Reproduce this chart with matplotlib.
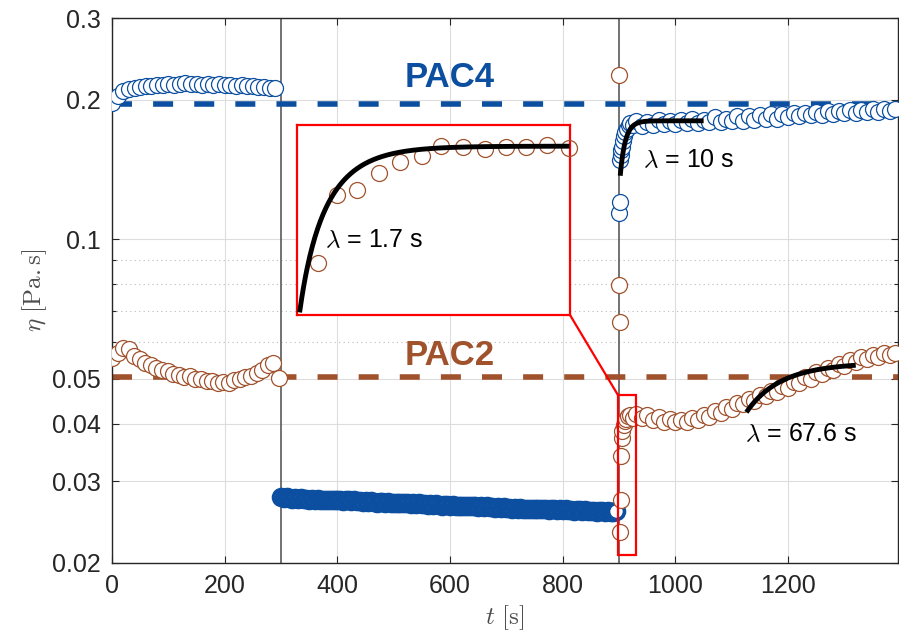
import numpy as np
import matplotlib.pyplot as plt
from matplotlib.patches import Rectangle, ConnectionPatch

plt.rcParams['font.family'] = ['Liberation Sans', 'DejaVu Sans']
plt.rcParams['mathtext.fontset'] = 'cm'

blue = '#0C4FA0'
brown = '#A0522D'
grey_txt = '#262626'

# PAC4 viscosity, first shear step (t = 0..290 s)
pac4_t1 = np.arange(0, 300, 10)
pac4_eta1 = [0.197, 0.204, 0.209, 0.211, 0.212, 0.213, 0.214, 0.214, 0.215, 0.215,
             0.216, 0.215, 0.216, 0.217, 0.216, 0.216, 0.215, 0.216, 0.215, 0.216,
             0.215, 0.215, 0.214, 0.215, 0.214, 0.214, 0.213, 0.213, 0.212, 0.212]

# PAC4, second step (t = 300..895 s)
pac4_t2 = np.arange(300, 900, 5)
pac4_eta2 = [0.0277, 0.0276, 0.0277, 0.0276, 0.0275, 0.0276, 0.0275, 0.0276, 0.0275, 0.0275,
             0.0274, 0.0275, 0.0274, 0.0275, 0.0274, 0.0273, 0.0274, 0.0274, 0.0273, 0.0274,
             0.0273, 0.0273, 0.0272, 0.0273, 0.0273, 0.0272, 0.0273, 0.0272, 0.0272, 0.0271,
             0.0272, 0.0271, 0.0272, 0.0271, 0.0270, 0.0271, 0.0271, 0.0270, 0.0271, 0.0270,
             0.0270, 0.0269, 0.0270, 0.0269, 0.0270, 0.0269, 0.0268, 0.0269, 0.0268, 0.0269,
             0.0268, 0.0268, 0.0267, 0.0268, 0.0267, 0.0268, 0.0267, 0.0266, 0.0267, 0.0267,
             0.0266, 0.0267, 0.0266, 0.0265, 0.0266, 0.0266, 0.0265, 0.0266, 0.0265, 0.0265,
             0.0264, 0.0265, 0.0264, 0.0265, 0.0264, 0.0264, 0.0263, 0.0264, 0.0263, 0.0264,
             0.0263, 0.0263, 0.0262, 0.0263, 0.0262, 0.0263, 0.0262, 0.0262, 0.0261, 0.0262,
             0.0262, 0.0261, 0.0262, 0.0261, 0.0261, 0.0260, 0.0261, 0.0261, 0.0260, 0.0261,
             0.0260, 0.0261, 0.0260, 0.0260, 0.0259, 0.0260, 0.0260, 0.0259, 0.0260, 0.0259,
             0.0259, 0.0259, 0.0258, 0.0259, 0.0259, 0.0258, 0.0259, 0.0258, 0.0258, 0.0259]

# PAC4, third step (t = 900..1390 s)
pac4_t3 = [900, 901, 902, 903, 904, 905, 907, 909, 911, 914, 917, 920, 925] + list(range(930, 1400, 10))
pac4_eta3 = [0.114, 0.120, 0.148, 0.152, 0.156, 0.158, 0.163, 0.167, 0.170, 0.173, 0.176, 0.178, 0.176,
             0.180, 0.175, 0.179, 0.176, 0.181, 0.177, 0.180, 0.177, 0.181, 0.178,
             0.182, 0.178, 0.181, 0.179, 0.183, 0.179, 0.182, 0.180, 0.184, 0.180,
             0.184, 0.181, 0.185, 0.182, 0.186, 0.182, 0.186, 0.183, 0.187, 0.184,
             0.187, 0.185, 0.188, 0.185, 0.189, 0.186, 0.189, 0.187, 0.190, 0.187,
             0.190, 0.188, 0.191, 0.188, 0.191, 0.189, 0.191]

# PAC2 viscosity, first step
pac2_t1 = np.linspace(0, 296, 31)
pac2_eta1 = [0.0553, 0.0568, 0.0582, 0.0578, 0.0560, 0.0552, 0.0540, 0.0535, 0.0526, 0.0522,
             0.0519, 0.0512, 0.0510, 0.0505, 0.0506, 0.0500, 0.0498, 0.0494, 0.0493, 0.0489,
             0.0491, 0.0490, 0.0496, 0.0498, 0.0504, 0.0507, 0.0515, 0.0522, 0.0534, 0.0540,
             0.0501]

# PAC2, third step (t = 899..1390 s)
pac2_t3 = [899, 900, 901, 902, 903, 904, 905, 906, 908, 910, 913, 916, 920, 925] + list(range(930, 1400, 10))
pac2_eta3 = [0.226, 0.0795, 0.0662, 0.0233, 0.0273, 0.0341, 0.0372, 0.0385, 0.0398, 0.0405, 0.0410,
             0.0415, 0.0418, 0.0412,
             0.0420, 0.0411, 0.0417, 0.0408, 0.0413, 0.0404, 0.0410, 0.0402, 0.0408, 0.0404,
             0.0412, 0.0408, 0.0418, 0.0414, 0.0426, 0.0422, 0.0434, 0.0430, 0.0444, 0.0440,
             0.0452, 0.0448, 0.0461, 0.0458, 0.0470, 0.0467, 0.0481, 0.0477, 0.0492, 0.0488,
             0.0504, 0.0500, 0.0516, 0.0511, 0.0527, 0.0521, 0.0537, 0.0532, 0.0548, 0.0542,
             0.0556, 0.0551, 0.0562, 0.0557, 0.0567, 0.0561, 0.0569]

# zoomed start-up of PAC2 at t = 900 s
zoom_t = [901.1, 902.1, 903.1, 904.2, 905.3, 906.4, 907.4, 908.5, 909.6, 910.7, 911.7, 912.8, 913.9]
zoom_eta = [0.0258, 0.0343, 0.0351, 0.0376, 0.0394, 0.0404, 0.0421, 0.0420, 0.0416, 0.0420,
            0.0420, 0.0423, 0.0418]

# reference levels and exponential fits (t0, t1, eta_start, eta_inf, lambda)
pac4_level = 0.196
pac2_level = 0.0503
fit_pac4 = (902, 1050, 0.137, 0.180, 10)
fit_pac2 = (1126, 1320, 0.0423, 0.0541, 67.6)
fit_zoom = (900.2, 913.8, 0.0212, 0.0421, 1.7)


def fit_curve(t0, t1, eta0, eta_inf, lam):
    t = np.linspace(t0, t1, 300)
    return t, eta_inf - (eta_inf - eta0) * np.exp(-(t - t0) / lam)


fig = plt.figure(figsize=(8.99, 6.44), dpi=100)
ax = fig.add_axes([112 / 899, 1 - 563 / 644, 786 / 899, 545 / 644])
ax.set_yscale('log')
ax.set_xlim(0, 1395)
ax.set_ylim(0.02, 0.3)

ax.set_yticks([0.02, 0.03, 0.04, 0.05, 0.1, 0.2, 0.3])
ax.set_yticklabels(['0.02', '0.03', '0.04', '0.05', '0.1', '0.2', '0.3'])
ax.set_yticks([0.06, 0.07, 0.08, 0.09], minor=True)
ax.set_xticks([0, 200, 400, 600, 800, 1000, 1200])
ax.tick_params(which='both', direction='in', top=True, right=True, labelsize=18,
               colors=grey_txt, pad=8, length=5, width=0.8)
ax.tick_params(which='minor', length=3)
ax.grid(True, which='major', color='#DDDDDD', lw=0.8)
ax.grid(True, which='minor', axis='y', color='#BBBBBB', lw=0.8, ls=(0, (1, 3)))
ax.set_axisbelow(True)
for s in ax.spines.values():
    s.set_color(grey_txt)
    s.set_linewidth(1.0)

ax.set_xlabel(r'$t\ [\mathrm{s}]$', fontsize=18, color='#4D4D4D', labelpad=4)
ax.set_ylabel(r'$\eta\ [\mathrm{Pa{.}s}]$', fontsize=18, color='#4D4D4D', labelpad=2)

# step changes
for ts in (300, 900):
    ax.axvline(ts, color='#5A5A5A', lw=1.2, zorder=1)

ax.axhline(pac4_level, color=blue, lw=4, dashes=(3.6, 3.8), zorder=2)
ax.axhline(pac2_level, color=brown, lw=4, dashes=(3.6, 3.8), zorder=2)

mk = dict(marker='o', ms=11.5, mfc='white', ls='none', zorder=3)
ax.plot(pac4_t1, pac4_eta1, mec=blue, mew=0.9, **mk)
ax.plot(pac4_t2, pac4_eta2, mec=blue, mew=2.6, **mk)
ax.plot(pac4_t3, pac4_eta3, mec=blue, mew=0.9, **mk)
ax.plot(pac2_t1, pac2_eta1, mec=brown, mew=0.9, **mk)
ax.plot(pac2_t3, pac2_eta3, mec=brown, mew=0.9, **mk)

for fit in (fit_pac4, fit_pac2):
    ft, fe = fit_curve(*fit)
    ax.plot(ft, fe, color='black', lw=3.5, zorder=4, solid_capstyle='butt')

ax.text(600, 0.2128, 'PAC4', color=blue, fontsize=25, fontweight='bold',
        ha='center', va='baseline', zorder=5)
ax.text(600, 0.0535, 'PAC2', color=brown, fontsize=25, fontweight='bold',
        ha='center', va='baseline', zorder=5)
ax.text(943, 0.143, r'$\lambda$ = %g s' % fit_pac4[4], fontsize=18, color='black',
        va='baseline', zorder=5)
ax.text(1124, 0.0366, r'$\lambda$ = %g s' % fit_pac2[4], fontsize=18, color='black',
        va='baseline', zorder=5)

# zoom window around the PAC2 start-up
box_t0, box_t1 = 898.3, 930.2
box_e0, box_e1 = 0.02076, 0.046
ax.add_patch(Rectangle((box_t0, box_e0), box_t1 - box_t0, box_e1 - box_e0,
                       fill=False, ec='red', lw=1.6, zorder=6))

ins = fig.add_axes([297 / 899, 1 - 315 / 644, 273 / 899, 190 / 644])
ins.set_yscale('log')
ins.set_xlim(900.05, 913.95)
ins.set_ylim(box_e0, box_e1)
ins.set_xticks([])
ins.set_yticks([])
ins.set_yticks([], minor=True)
for s in ins.spines.values():
    s.set_color('red')
    s.set_linewidth(1.6)
ins.plot(zoom_t, zoom_eta, marker='o', ms=11.5, mfc='none', mec=brown, mew=0.9,
         ls='none', clip_on=False, zorder=3)
ft, fe = fit_curve(*fit_zoom)
ins.plot(ft, fe, color='black', lw=3.5, zorder=4)
ins.text(901.5, 0.0276, r'$\lambda$ = %g s' % fit_zoom[4], fontsize=18, color='black',
         va='baseline')

con = ConnectionPatch(xyA=(1, 0), coordsA=ins.transAxes,
                      xyB=(box_t0, box_e1), coordsB=ax.transData,
                      color='red', lw=1.6)
fig.add_artist(con)

fig.savefig('out.png', dpi=100)
